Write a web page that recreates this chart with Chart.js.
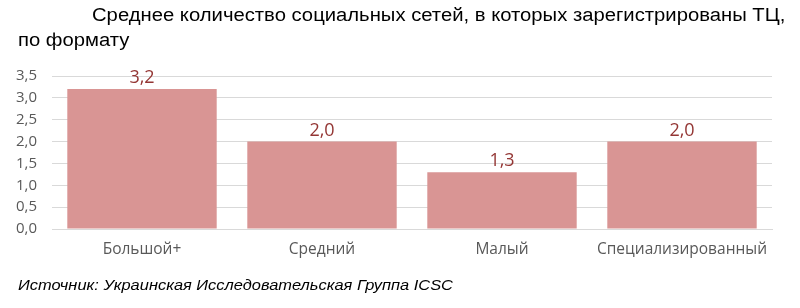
<!DOCTYPE html>
<html>
<head>
<meta charset="utf-8">
<script src="https://cdn.jsdelivr.net/npm/chart.js@4"></script>
<style>
  body { margin: 0; background: #fff; }
  #wrap { position: relative; width: 800px; height: 308px; }
  #chart { position: absolute; left: 0; top: 0; }
  .title { position: absolute; font-family: "Liberation Sans", Arial, sans-serif; font-size: 18px; color: #000; white-space: nowrap; transform: scaleX(1.125); transform-origin: 0 0; }
  .source { position: absolute; left: 18px; top: 276px; font-family: "Liberation Sans", Arial, sans-serif; font-size: 15px; font-style: italic; color: #000; white-space: nowrap; transform: scaleX(1.095); transform-origin: 0 0; }
</style>
</head>
<body>
<div id="wrap">
  <canvas id="chart" width="800" height="308"></canvas>
  <div class="title" style="left:92px; top:5px;">Среднее количество социальных сетей, в которых зарегистрированы ТЦ,</div>
  <div class="title" style="left:18px; top:30px;">по формату</div>
  <div class="source">Источник: Украинская Исследовательская Группа ICSC</div>
</div>
<script>
const labels = ["Большой+", "Средний", "Малый", "Специализированный"];
const values = [3.2, 2.0, 1.3, 2.0];
const valueLabels = ["3,2", "2,0", "1,3", "2,0"];

const ctx = document.getElementById('chart').getContext('2d');

const fmt = v => v.toFixed(1).replace('.', ',');

// подписи значений над столбцами
const barLabels = {
    id: 'barLabels',
    afterDatasetsDraw(chart) {
        const c = chart.ctx;
        const meta = chart.getDatasetMeta(0);
        c.save();
        c.font = '18px "Open Sans", sans-serif';
        c.fillStyle = '#943634';
        c.textAlign = 'center';
        c.textBaseline = 'bottom';
        meta.data.forEach((bar, i) => {
            c.fillText(valueLabels[i], bar.x, bar.y - 2);
        });
        c.restore();
    }
};

new Chart(ctx, {
    type: 'bar',
    data: {
        labels: labels,
        datasets: [{
            data: values,
            backgroundColor: '#d99594',
            borderWidth: 0,
            barPercentage: 0.83,
            categoryPercentage: 1.0
        }]
    },
    options: {
        responsive: false,
        animation: false,
        layout: {
            padding: { left: 0, right: 28, top: 76, bottom: 0 }
        },
        plugins: {
            legend: { display: false },
            tooltip: { enabled: false }
        },
        scales: {
            y: {
                min: 0,
                max: 3.5,
                afterFit: s => { s.width = 52; },
                border: { display: false },
                grid: { color: '#d9d9d9', drawTicks: false },
                ticks: {
                    stepSize: 0.5,
                    padding: 15,
                    color: '#595959',
                    font: { size: 15, family: "Open Sans" },
                    callback: v => fmt(v)
                }
            },
            x: {
                afterFit: s => { s.height = 79; },
                border: { color: '#d9d9d9' },
                grid: { display: false, drawTicks: false },
                ticks: {
                    padding: 11,
                    color: '#595959',
                    font: { size: 15.5, family: "Open Sans" }
                }
            }
        }
    },
    plugins: [barLabels]
});
</script>
</body>
</html>
